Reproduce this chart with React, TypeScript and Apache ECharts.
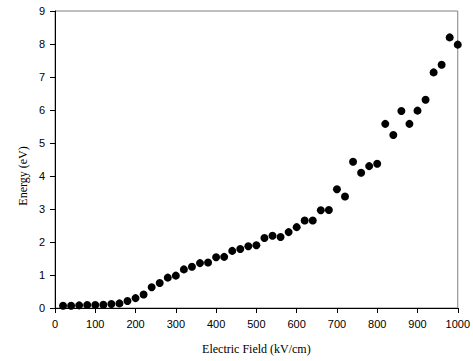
import React, { useEffect, useRef } from "react";
import * as echarts from "echarts";

const fieldKVcm = [
  20, 40, 60, 80, 100, 120, 140, 160, 180, 200,
  220, 240, 260, 280, 300, 320, 340, 360, 380, 400,
  420, 440, 460, 480, 500, 520, 540, 560, 580, 600,
  620, 640, 660, 680, 700, 720, 740, 760, 780, 800,
  820, 840, 860, 880, 900, 920, 940, 960, 980, 1000,
];
const energyEV = [
  0.07, 0.07, 0.08, 0.09, 0.09, 0.1, 0.12, 0.14, 0.21, 0.3,
  0.41, 0.63, 0.76, 0.92, 0.98, 1.17, 1.25, 1.36, 1.38, 1.54,
  1.55, 1.73, 1.79, 1.87, 1.9, 2.12, 2.19, 2.15, 2.3, 2.45,
  2.65, 2.65, 2.96, 2.97, 3.6, 3.38, 4.43, 4.1, 4.3, 4.37,
  5.58, 5.24, 5.97, 5.58, 5.98, 6.31, 7.14, 7.37, 8.2, 7.98,
];

export default function App() {
  const ref = useRef<HTMLDivElement>(null);
  useEffect(() => {
    document.body.style.margin = "0";
    if (!ref.current) return;
    const chart = echarts.init(ref.current, null, { renderer: "svg" });
    chart.setOption({
      animation: false,
      backgroundColor: "#fff",
      grid: {
        left: 55,
        right: 15,
        top: 11,
        bottom: 53,
        show: true,
        borderColor: "#808080",
        borderWidth: 1,
      },
      xAxis: {
        type: "value",
        min: 0,
        max: 1000,
        interval: 100,
        name: "Electric Field (kV/cm)",
        nameLocation: "middle",
        nameGap: 35,
        nameTextStyle: { fontFamily: "Liberation Serif", fontSize: 12, color: "#000" },
        axisLine: { show: true, lineStyle: { color: "#000", width: 1 } },
        axisTick: { show: true, length: 5, lineStyle: { color: "#000" } },
        axisLabel: {
          fontFamily: "Liberation Sans",
          fontSize: 11,
          color: "#000",
          margin: 10,
          formatter: (v: number) => String(v),
        },
        splitLine: { show: false },
      },
      yAxis: {
        type: "value",
        min: 0,
        max: 9,
        interval: 1,
        axisLine: { show: true, lineStyle: { color: "#000", width: 1 } },
        axisTick: { show: true, length: 5, lineStyle: { color: "#000" } },
        axisLabel: { fontFamily: "Liberation Sans", fontSize: 11, color: "#000", margin: 10 },
        splitLine: { show: false },
      },
      graphic: [
        {
          type: "text",
          x: 23,
          y: 176,
          rotation: Math.PI / 2,
          style: {
            text: "Energy (eV)",
            fontFamily: "Liberation Serif",
            fontSize: 12,
            fill: "#000",
            align: "center",
            verticalAlign: "middle",
          },
        },
      ],
      series: [
        {
          type: "scatter",
          data: fieldKVcm.map((x, i) => [x, energyEV[i]]),
          symbol: "circle",
          symbolSize: 8,
          itemStyle: { color: "#000", opacity: 1 },
        },
      ],
    });
    return () => chart.dispose();
  }, []);
  return <div ref={ref} style={{ width: 473, height: 361 }} />;
}
